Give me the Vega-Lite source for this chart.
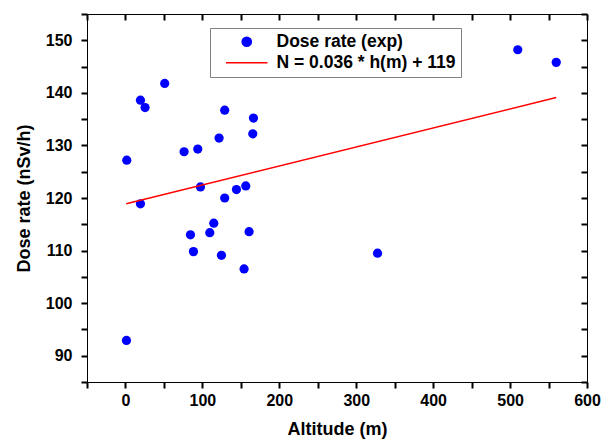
{
  "$schema": "https://vega.github.io/schema/vega-lite/v6.json",
  "width": 500,
  "height": 368,
  "autosize": {"type": "none"},
  "padding": {"left": 87, "top": 14, "right": 18, "bottom": 65},
  "background": "white",
  "config": {"view": {"stroke": null}},
  "datasets": {
    "pts": [
      {"altitude": 51, "dose": 141.8, "series": "Dose rate (exp)"},
      {"altitude": 19.5, "dose": 138.6, "series": "Dose rate (exp)"},
      {"altitude": 25.5, "dose": 137.2, "series": "Dose rate (exp)"},
      {"altitude": 129, "dose": 136.7, "series": "Dose rate (exp)"},
      {"altitude": 166.4, "dose": 135.2, "series": "Dose rate (exp)"},
      {"altitude": 121.7, "dose": 131.4, "series": "Dose rate (exp)"},
      {"altitude": 165.5, "dose": 132.2, "series": "Dose rate (exp)"},
      {"altitude": 76.2, "dose": 128.8, "series": "Dose rate (exp)"},
      {"altitude": 94, "dose": 129.3, "series": "Dose rate (exp)"},
      {"altitude": 1.7, "dose": 127.2, "series": "Dose rate (exp)"},
      {"altitude": 97.5, "dose": 122.1, "series": "Dose rate (exp)"},
      {"altitude": 156.4, "dose": 122.3, "series": "Dose rate (exp)"},
      {"altitude": 144.3, "dose": 121.6, "series": "Dose rate (exp)"},
      {"altitude": 129, "dose": 120.0, "series": "Dose rate (exp)"},
      {"altitude": 19.5, "dose": 118.9, "series": "Dose rate (exp)"},
      {"altitude": 114.8, "dose": 115.2, "series": "Dose rate (exp)"},
      {"altitude": 84.5, "dose": 113.0, "series": "Dose rate (exp)"},
      {"altitude": 109.6, "dose": 113.4, "series": "Dose rate (exp)"},
      {"altitude": 160.7, "dose": 113.6, "series": "Dose rate (exp)"},
      {"altitude": 88.4, "dose": 109.8, "series": "Dose rate (exp)"},
      {"altitude": 124.8, "dose": 109.1, "series": "Dose rate (exp)"},
      {"altitude": 154.2, "dose": 106.5, "series": "Dose rate (exp)"},
      {"altitude": 1.3, "dose": 92.9, "series": "Dose rate (exp)"},
      {"altitude": 327.7, "dose": 109.5, "series": "Dose rate (exp)"},
      {"altitude": 510, "dose": 148.2, "series": "Dose rate (exp)"},
      {"altitude": 560, "dose": 145.8, "series": "Dose rate (exp)"}
    ],
    "fit": [
      {"altitude": 1, "dose": 118.9, "series": "N = 0.036 * h(m) + 119"},
      {"altitude": 560, "dose": 139.1, "series": "N = 0.036 * h(m) + 119"}
    ]
  },
  "layer": [
    {
      "data": {"name": "pts"},
      "mark": {"type": "point", "filled": true, "size": 85, "opacity": 1},
      "encoding": {
        "x": {
          "field": "altitude", "type": "quantitative",
          "scale": {"domain": [-50, 600], "nice": false, "zero": false},
          "axis": {
            "orient": "bottom", "grid": false,
            "values": [-50, 0, 50, 100, 150, 200, 250, 300, 350, 400, 450, 500, 550, 600],
            "labelExpr": "datum.value % 100 === 0 ? datum.label : ''",
            "ticks": true, "tickSize": 6, "tickColor": "black", "tickWidth": 2,
            "domainColor": "black",
            "labelFont": "Liberation Sans", "labelFontSize": 16, "labelFontWeight": "bold", "labelPadding": 4, "labelFlush": false,
            "title": "Altitude (m)", "titleFont": "Liberation Sans", "titleFontSize": 18, "titleFontWeight": "bold", "titlePadding": 12
          }
        },
        "y": {
          "field": "dose", "type": "quantitative",
          "scale": {"domain": [85, 155], "nice": false, "zero": false},
          "axis": {
            "orient": "left", "grid": false,
            "values": [85, 90, 95, 100, 105, 110, 115, 120, 125, 130, 135, 140, 145, 150, 155],
            "labelExpr": "datum.value % 10 === 0 ? datum.label : ''",
            "ticks": true, "tickSize": 6, "tickColor": "black", "tickWidth": 2,
            "domainColor": "black",
            "labelFont": "Liberation Sans", "labelFontSize": 16, "labelFontWeight": "bold", "labelPadding": 9, "labelFlush": false,
            "title": "Dose rate (nSv/h)", "titleFont": "Liberation Sans", "titleFontSize": 18, "titleFontWeight": "bold", "titlePadding": 12
          }
        },
        "color": {
          "field": "series", "type": "nominal",
          "scale": {"domain": ["Dose rate (exp)", "N = 0.036 * h(m) + 119"], "range": ["#0000ff", "#ff0000"]},
          "legend": {
            "title": null, "orient": "none", "direction": "vertical",
            "legendX": 123, "legendY": 14,
            "strokeColor": "#808080", "padding": 5,
            "labelFont": "Liberation Sans", "labelFontSize": 17.5, "labelFontWeight": "bold", "labelLimit": 400,
            "labelOffset": 21, "rowPadding": 2,
            "symbolSize": 85, "symbolStrokeWidth": 1.5, "symbolOffset": 23, "symbolOpacity": 1
          }
        },
        "shape": {
          "field": "series", "type": "nominal",
          "scale": {"domain": ["Dose rate (exp)", "N = 0.036 * h(m) + 119"], "range": ["circle", "M-4.5,0H4.5"]},
          "legend": {
            "title": null, "orient": "none", "direction": "vertical",
            "legendX": 123, "legendY": 14,
            "strokeColor": "#808080", "padding": 5,
            "labelFont": "Liberation Sans", "labelFontSize": 17.5, "labelFontWeight": "bold", "labelLimit": 400,
            "labelOffset": 21, "rowPadding": 2,
            "symbolSize": 85, "symbolStrokeWidth": 1.5, "symbolOffset": 23, "symbolOpacity": 1
          }
        }
      }
    },
    {
      "data": {"name": "fit"},
      "mark": {"type": "line", "strokeWidth": 1.6},
      "encoding": {
        "x": {
          "field": "altitude", "type": "quantitative",
          "scale": {"domain": [-50, 600], "nice": false, "zero": false},
          "axis": {
            "orient": "top", "grid": false,
            "values": [-50, 0, 50, 100, 150, 200, 250, 300, 350, 400, 450, 500, 550, 600],
            "ticks": true, "tickSize": -6, "tickColor": "black", "tickWidth": 2,
            "domainColor": "black",
            "labels": false, "title": null
          }
        },
        "y": {
          "field": "dose", "type": "quantitative",
          "scale": {"domain": [85, 155], "nice": false, "zero": false},
          "axis": {
            "orient": "right", "grid": false,
            "values": [85, 90, 95, 100, 105, 110, 115, 120, 125, 130, 135, 140, 145, 150, 155],
            "ticks": true, "tickSize": -6, "tickColor": "black", "tickWidth": 2,
            "domainColor": "black",
            "labels": false, "title": null
          }
        },
        "color": {"field": "series", "type": "nominal"}
      }
    }
  ],
  "resolve": {
    "scale": {"x": "independent", "y": "independent"},
    "axis": {"x": "independent", "y": "independent"}
  }
}
